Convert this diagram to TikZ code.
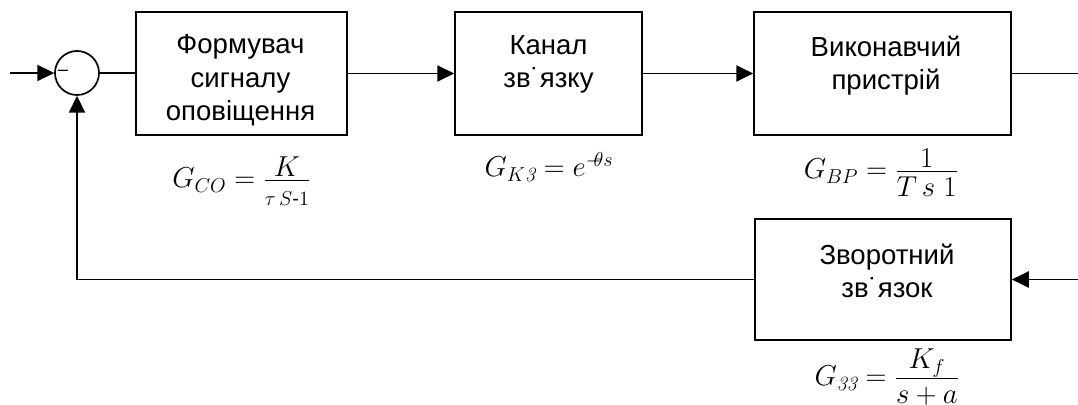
\RequirePackage{fix-cm}
\documentclass[tikz,border=0pt]{standalone}
\usepackage{amsmath}
\usepackage{fontspec}
\setmainfont{Liberation Sans}
\newfontfamily\lmfont{Latin Modern Roman}
\newcommand{\itnum}[1]{\text{\lmfont\itshape #1}}
\newcommand{\cfr}[2]{{\textstyle\frac{\displaystyle #1}{\displaystyle\rule{0pt}{0.8em}#2}}}
\usetikzlibrary{arrows.meta}
\begin{document}
\begin{tikzpicture}[x=0.025cm,y=-0.025cm,line width=1.2pt,
  blk/.style={draw,line width=1.2pt,inner sep=0pt},
  txt/.style={font=\fontsize{19.6}{23.6}\selectfont,align=center,inner sep=0pt,anchor=north},
  frm/.style={font=\fontsize{20.5}{24}\selectfont,inner sep=0pt,anchor=base},
  arr/.style={-{Triangle[length=12pt,width=11.5pt]}}]
\useasboundingbox (0,0) rectangle (1078,405);
% summing junction
\node[circle,draw,minimum size=1.1cm,inner sep=0pt] (sum) at (77,73) {};
\node[inner sep=0pt,font=\fontsize{13}{13}\selectfont] (minus) at (63,73) {–};
% blocks
\node[blk,minimum width=5.275cm,minimum height=3.075cm] (b1) at (241.5,73.5) {};
\node[blk,minimum width=4.675cm,minimum height=3.075cm] (b2) at (548.5,73.5) {};
\node[blk,minimum width=6.425cm,minimum height=3.075cm] (b3) at (882.5,73.5) {};
\node[blk,minimum width=6.4cm,minimum height=3.025cm] (b4) at (883,279.5) {};
% block texts
\node[txt] (t1) at (240.5,34) {Формувач\\сигналу\\оповіщення};
\node[txt] (t2) at (548.5,35) {Канал\\зв˙язку};
\node[txt] (t3) at (886,35) {Виконавчий\\пристрій};
\node[txt] (t4) at (887,243) {Зворотний\\зв˙язок};
% formulas
\node[frm] (f1) at (241.5,188) {$G_{CO}=\cfr{K}{\scriptstyle\tau\,S\text{-}1}$};
\node[frm] (f2) at (549,177) {$G_{K\itnum{3}}=e^{-\mkern-7mu\theta s}$};
\node[frm] (f3) at (881,179) {$G_{BP}=\cfr{1}{T\,s\;1}$};
\node[frm] (f4) at (887,386) {$G_{\itnum{33}}=\cfr{K_f}{s+a}$};
% connectors
\coordinate (in) at (10,73);
\coordinate (out) at (1078,73.5);
\coordinate (fin) at (1078,279.5);
\draw[arr] (in) -- (sum.west);
\draw (sum.east) -- (sum.east -| b1.west);
\draw[arr] (b1.east) -- (b2.west);
\draw[arr] (b2.east) -- (b3.west);
\draw (b3.east) -- (out);
\draw[arr] (fin) -- (b4.east);
\draw[arr] (b4.west) -| (sum.south);
\end{tikzpicture}
\end{document}
